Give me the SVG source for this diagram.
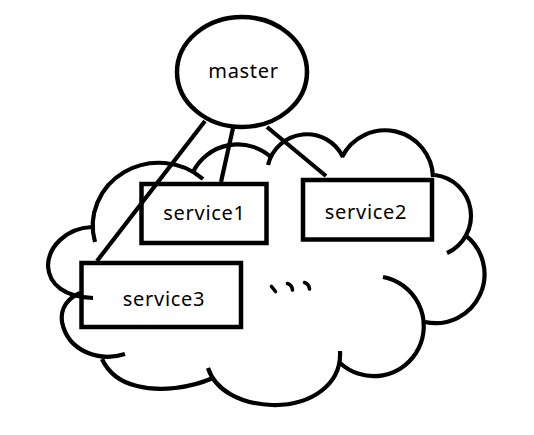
<svg xmlns="http://www.w3.org/2000/svg" width="534" height="435" viewBox="0 0 534 435">
<style>
.s{fill:none;stroke:#000;stroke-width:4.5}
.c{fill:none;stroke:#000;stroke-width:4.2;stroke-linecap:butt}
.t{font-family:"Noto Sans","Liberation Sans",sans-serif;font-size:20px;letter-spacing:0.7px;fill:#000;text-anchor:middle}
.k{fill:none;stroke:#000;stroke-width:3.6;stroke-linecap:round}
</style>
<rect width="534" height="435" fill="#fff"/>
<g id="cloud" class="c">
<path d="M95,242 A66,63 0 0 1 203,179"/>
<path d="M193,172 A50,50 0 0 1 272,158"/>
<path d="M268,165 A40,40 0 0 1 343,157"/>
<path d="M342,157 A48,48 0 0 1 433,177"/>
<path d="M435,175 A41,41 0 0 1 447,253"/>
<path d="M465,235 A49,49 0 0 1 425,322"/>
<path d="M383,277 A50,50 0 1 1 340,363"/>
<path d="M340,351 C342,385 310,406 272,405 C240,404 215,390 208,368"/>
<path d="M213,378 C190,388 160,392 137,386 C120,382 108,372 102,359"/>
<path d="M125,354 C100,362 68,352 62,322 C60,308 68,298 80,293"/>
<path d="M92,227 C65,228 48,248 48,266 C49,285 65,297 93,298"/>
</g>
<g id="connectors" class="c">
<line x1="205" y1="121" x2="97" y2="261"/>
<line x1="233" y1="128" x2="221" y2="182"/>
<line x1="267" y1="127" x2="326" y2="176"/>
</g>
<g id="master">
<ellipse class="s" cx="242" cy="72" rx="65" ry="55"/>
<text class="t" x="243.5" y="78">master</text>
</g>
<g id="service1">
<rect class="s" x="141.5" y="184" width="125" height="59"/>
<text class="t" x="204.5" y="220">service1</text>
</g>
<g id="service2">
<rect class="s" x="303" y="180" width="129" height="59.5"/>
<text class="t" x="366" y="218.5">service2</text>
</g>
<g id="service3">
<rect class="s" x="81.5" y="263" width="159.5" height="64"/>
<text class="t" x="164" y="306">service3</text>
</g>
<g id="ellipsis" class="k">
<path d="M271.5,286.5 L275.5,291.5"/>
<path d="M287.5,283.5 Q292,285 292.5,290"/>
<path d="M304.5,282.5 Q309,284 309.5,289"/>
</g>
</svg>
